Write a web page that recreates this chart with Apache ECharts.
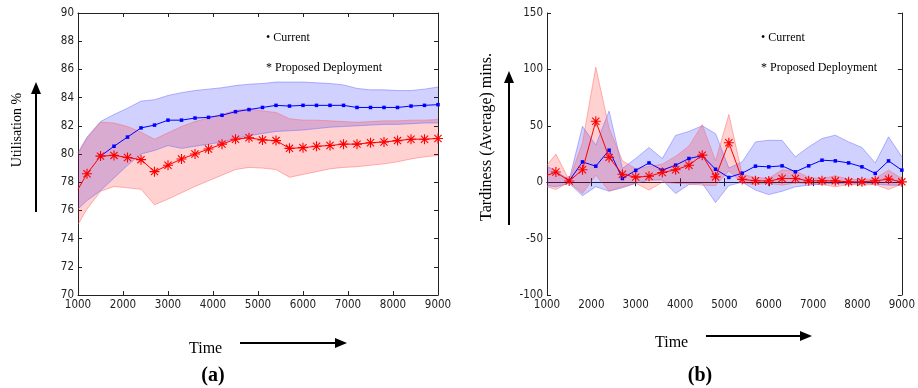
<!DOCTYPE html>
<html>
<head>
<meta charset="utf-8">
<script src="https://cdn.jsdelivr.net/npm/echarts@6/dist/echarts.min.js"></script>
<style>
html,body{margin:0;padding:0;background:#fff;}
#chart{width:918px;height:388px;}
</style>
</head>
<body>
<div id="chart"></div>
<script>
// ---- data ----
var timeValues = [1000,1200,1500,1800,2100,2400,2700,3000,3300,3600,3900,4200,4500,4800,5100,5400,5700,6000,6300,6600,6900,7200,7500,7800,8100,8400,8700,9000];

// (a) Utilisation %
var utilCurrentMean  = [null,null,79.85,80.55,81.2,81.85,82.05,82.4,82.4,82.55,82.6,82.75,83.0,83.15,83.3,83.45,83.4,83.45,83.45,83.45,83.45,83.3,83.3,83.3,83.3,83.4,83.45,83.5];
var utilCurrentUpper = [80.1,81.2,82.3,82.8,83.25,83.75,83.85,84.15,84.35,84.5,84.6,84.7,84.85,84.95,85.0,85.1,85.1,85.1,85.05,85.0,84.9,84.65,84.55,84.55,84.5,84.5,84.6,84.75];
var utilCurrentLower = [76.1,76.7,77.4,78.3,79.2,80.0,80.25,80.6,80.4,80.55,80.7,80.85,81.1,81.3,81.45,81.6,81.65,81.7,81.8,81.9,81.95,82.0,82.05,82.1,82.1,82.15,82.2,82.2];
var utilProposedMean  = [77.5,78.6,79.85,79.9,79.75,79.6,78.75,79.2,79.65,80.0,80.35,80.7,81.05,81.15,81.0,80.95,80.4,80.45,80.55,80.6,80.7,80.7,80.8,80.85,80.95,81.05,81.05,81.1];
var utilProposedUpper = [80.0,81.1,82.25,82.2,81.95,81.55,81.05,81.5,81.95,82.3,82.55,82.8,83.1,83.2,83.05,82.95,82.5,82.4,82.4,82.35,82.3,82.25,82.3,82.35,82.35,82.4,82.4,82.45];
var utilProposedLower = [75.0,76.1,77.35,77.7,77.6,77.5,76.4,76.8,77.25,77.7,78.1,78.5,78.9,79.05,79.0,78.9,78.35,78.55,78.75,78.95,79.05,79.1,79.2,79.3,79.45,79.65,79.8,79.9];

// (b) Tardiness (Average) mins.
var tardCurrentMean  = [null,null,1.2,18,14.2,28.4,3.3,10.5,17.1,10.7,15.1,21,23.5,11.5,4.2,8.0,14.2,13.6,14.5,9.2,14.5,19.5,18.9,17.1,13.6,7.8,18.9,10.7];
var tardCurrentUpper = [14,10,2,49.5,32.8,63,12.2,21,30.8,21,41.5,45,50,43,12.5,18,35.7,37.2,37,22.5,31.3,38.7,41.7,35.7,30.8,17.1,40.2,22.5];
var tardCurrentLower = [-3,-4,-1,-12,-4,-8,-5,-1,1.8,2,-10,-2,-1,-18,-3,0,-7,-11,-8,-4.1,-2.6,-1.7,-1.2,-1.7,-1.2,-1.7,-2.6,-2.6];
var tardProposedMean  = [6,9,1,11,54,22,7,4.5,5.3,8.6,11,15,24,4.7,35,2.5,1.3,1.0,3.3,3.3,1.2,1.2,1.2,0.3,0.3,1.2,2.7,0.3];
var tardProposedUpper = [15,25,2,35,102,48,19,12,14,16,23,32,51,19,60,7,4.2,3.4,11,10,4.2,3.3,5.6,2.7,2.1,3.3,10.7,3.3];
var tardProposedLower = [-4,-6.4,0,-10,6.2,-7.7,-4,-1,-7,0,-1,-1.5,-2.6,-3,10,-1,-2,-1,-2.6,-0.6,-1.2,-2.1,-4.1,-2.1,-2.6,-2.1,-6.4,-1.7];

// tick labels
var xTicks = {min:1000, max:9000, interval:1000};
var utilTicks = {min:70, max:90, interval:2};
var tardTicks = {min:-100, max:150, interval:50};

var legendCurrent = '\u2022 Current';
var legendProposed = '* Proposed Deployment';
var yTitleA = 'Utilisation %';
var yTitleB = 'Tardiness (Average) mins.';
var xTitle = 'Time';

// ---- build ----
var BLUE = '#0000ff', RED = '#ff0000';
var BLUE_FILL = 'rgba(0,0,255,0.18)', RED_FILL = 'rgba(255,0,0,0.18)';
var BLUE_EDGE = 'rgba(100,100,255,0.6)', RED_EDGE = 'rgba(255,100,100,0.6)';
var STAR = 'path://M0,-5L0,5M-5,0L5,0M-3.6,-3.6L3.6,3.6M-3.6,3.6L3.6,-3.6';
var TICK_FONT = '"Liberation Sans Narrow","DejaVu Sans Condensed","Liberation Sans",sans-serif';
var SERIF = '"Liberation Serif","DejaVu Serif",serif';

function pairs(ys){
  var out=[];
  for(var i=0;i<timeValues.length;i++){ if(ys[i]!=null) out.push([timeValues[i], ys[i]]); }
  return out;
}
function band(idx, up, lo, fill, edge){
  var data=[];
  for(var i=0;i<timeValues.length;i++){ data.push([timeValues[i], lo[i], up[i]]); }
  return [
    {type:'custom', xAxisIndex:idx, yAxisIndex:idx, data:data, encode:{x:0, y:[1,2]}, silent:true, z:1,
     renderItem:function(params, api){
       if(params.dataIndex!==0) return null;
       var pts=[], i;
       for(i=0;i<data.length;i++) pts.push(api.coord([data[i][0], data[i][2]]));
       for(i=data.length-1;i>=0;i--) pts.push(api.coord([data[i][0], data[i][1]]));
       return {type:'polygon', shape:{points:pts}, style:{fill:fill, stroke:null}};
     }},
    {type:'line', xAxisIndex:idx, yAxisIndex:idx, data:pairs(up), symbol:'none',
     lineStyle:{color:edge, width:0.8}, z:2, silent:true},
    {type:'line', xAxisIndex:idx, yAxisIndex:idx, data:pairs(lo), symbol:'none',
     lineStyle:{color:edge, width:0.8}, z:2, silent:true}
  ];
}
function meanBlue(idx, ys){
  return {type:'line', xAxisIndex:idx, yAxisIndex:idx, data:pairs(ys), symbol:'rect', symbolSize:3.5,
    showAllSymbol:true, lineStyle:{color:BLUE, width:1}, itemStyle:{color:BLUE}, z:3};
}
function meanRed(idx, ys){
  var d = pairs(ys).map(function(p,i){ return i===0 ? {value:p, symbol:'none'} : p; });
  return {type:'line', xAxisIndex:idx, yAxisIndex:idx, data:d, symbol:STAR, symbolSize:10, symbolKeepAspect:true,
    showAllSymbol:true, lineStyle:{color:RED, width:1}, itemStyle:{color:RED, borderColor:RED, borderWidth:1.1}, z:4};
}

var axisLineStyle = {lineStyle:{color:'#222', width:1}};
function plain(v){ return String(v); }
function xAxes(gi){
  return [
    {type:'value', gridIndex:gi, position:'bottom', min:xTicks.min, max:xTicks.max, interval:xTicks.interval,
     axisLine:axisLineStyle, axisTick:{inside:true, length:4, lineStyle:{color:'#222'}},
     axisLabel:{fontFamily:TICK_FONT, fontSize:11.5, color:'#222', margin:4, formatter:plain}, splitLine:{show:false}},
    {type:'value', gridIndex:gi, position:'top', min:xTicks.min, max:xTicks.max, interval:xTicks.interval,
     axisLine:axisLineStyle, axisTick:{inside:true, length:4, lineStyle:{color:'#222'}},
     axisLabel:{show:false}, splitLine:{show:false}}
  ];
}
function yAxes(gi, t){
  return [
    {type:'value', gridIndex:gi, position:'left', min:t.min, max:t.max, interval:t.interval,
     axisLine:axisLineStyle, axisTick:{inside:true, length:4, lineStyle:{color:'#222'}},
     axisLabel:{fontFamily:TICK_FONT, fontSize:11.5, color:'#222', margin:4, formatter:plain}, splitLine:{show:false}},
    {type:'value', gridIndex:gi, position:'right', min:t.min, max:t.max, interval:t.interval,
     axisLine:axisLineStyle, axisTick:{inside:true, length:4, lineStyle:{color:'#222'}},
     axisLabel:{show:false}, splitLine:{show:false}}
  ];
}

var xa = xAxes(0).concat(xAxes(1));
var ya = yAxes(0, utilTicks).concat(yAxes(1, tardTicks));
var series = []
  .concat(band(0, utilCurrentUpper, utilCurrentLower, BLUE_FILL, BLUE_EDGE))
  .concat(band(0, utilProposedUpper, utilProposedLower, RED_FILL, RED_EDGE))
  .concat([meanBlue(0, utilCurrentMean), meanRed(0, utilProposedMean)])
  .concat(band(2, tardCurrentUpper, tardCurrentLower, BLUE_FILL, BLUE_EDGE))
  .concat(band(2, tardProposedUpper, tardProposedLower, RED_FILL, RED_EDGE))
  .concat([meanBlue(2, tardCurrentMean), meanRed(2, tardProposedMean)]);

function arrowV(x, yTop, yBot){
  return [
    {type:'line', shape:{x1:x, y1:yBot, x2:x, y2:yTop+10}, style:{stroke:'#000', lineWidth:2}},
    {type:'polygon', shape:{points:[[x,yTop],[x-5,yTop+12],[x+5,yTop+12]]}, style:{fill:'#000'}}
  ];
}
function arrowH(xL, xR, y){
  return [
    {type:'line', shape:{x1:xL, y1:y, x2:xR-10, y2:y}, style:{stroke:'#000', lineWidth:2}},
    {type:'polygon', shape:{points:[[xR,y],[xR-12,y-5],[xR-12,y+5]]}, style:{fill:'#000'}}
  ];
}
function txt(x, y, s, opts){
  var st = {text:s, x:x, y:y, fill:'#000', font:(opts.weight||'normal')+' '+opts.size+'px '+SERIF,
            textAlign:opts.align||'left', textVerticalAlign:'middle'};
  var o = {type:'text', style:st};
  if(opts.rot){ o.x=x; o.y=y; o.rotation=opts.rot; st.x=0; st.y=0; }
  return o;
}

var graphics = []
  .concat(arrowV(36, 82, 212))
  .concat(arrowV(509, 71, 225))
  .concat(arrowH(240, 347, 343))
  .concat(arrowH(706, 812, 336))
  .concat([
    txt(17, 130, yTitleA, {size:14, align:'center', rot:Math.PI/2}),
    txt(487, 137, yTitleB, {size:16, align:'center', rot:Math.PI/2}),
    txt(189, 349, xTitle, {size:16}),
    txt(655, 343, xTitle, {size:16}),
    txt(213, 376, '(a)', {size:20, weight:'bold', align:'center'}),
    txt(700, 376, '(b)', {size:20, weight:'bold', align:'center'}),
    txt(266, 38, legendCurrent, {size:12}),
    txt(266, 68, legendProposed, {size:12}),
    txt(761, 38, legendCurrent, {size:12}),
    txt(761, 68, legendProposed, {size:12})
  ]);

var chart = echarts.init(document.getElementById('chart'), null, {renderer:'canvas'});
chart.setOption({
  animation:false,
  backgroundColor:'#fff',
  grid:[
    {left:78, top:13, width:360, height:282, containLabel:false},
    {left:547, top:13, width:360, height:282, containLabel:false}
  ],
  xAxis:xa,
  yAxis:ya,
  series:series,
  graphic:graphics
});
</script>
</body>
</html>
